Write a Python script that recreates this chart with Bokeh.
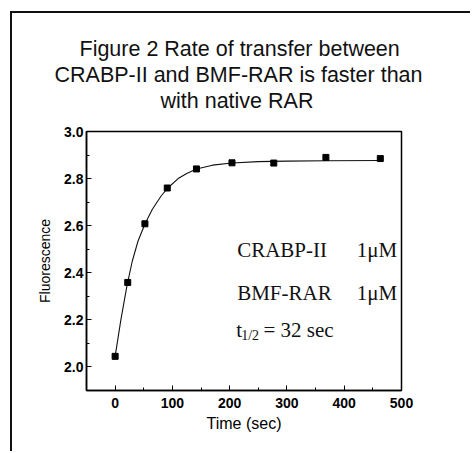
from bokeh.plotting import figure
from bokeh.models import Label, FixedTicker, PrintfTickFormatter, Range1d, Title
from bokeh.embed import file_html
from bokeh.resources import INLINE

# measured data points
time_s = [0, 22, 52, 91, 142, 204, 277, 368, 463]
fluor = [2.045, 2.359, 2.608, 2.760, 2.841, 2.867, 2.866, 2.890, 2.885]

# fitted curve
fit_t = [0, 10, 21, 30, 40, 52, 65, 80, 91, 110, 125, 142, 170, 204, 250, 300, 370, 464]
fit_y = [2.045, 2.20, 2.35, 2.45, 2.535, 2.607, 2.67, 2.725, 2.758, 2.80, 2.822,
         2.841, 2.857, 2.866, 2.872, 2.874, 2.876, 2.877]

x_ticks = [0, 100, 200, 300, 400, 500]
x_minor = [-50, 50, 150, 250, 350, 450]
y_ticks = [2.0, 2.2, 2.4, 2.6, 2.8, 3.0]
y_minor = [1.9, 2.1, 2.3, 2.5, 2.7, 2.9]

title_lines = ["Figure 2 Rate of transfer between",
               "CRABP-II and BMF-RAR is faster than",
               "with native RAR"]
title_offsets = [-7, -32, 74]   # horizontal shifts of the left-aligned lines

p = figure(width=460, height=440, output_backend="svg", toolbar_location=None,
           x_range=Range1d(-50, 500), y_range=Range1d(1.9, 3.0),
           min_border_left=74, min_border_right=71, min_border_top=118,
           min_border_bottom=63, margin=(11, 0, 0, 10), title=None)
p.styles = {"border-left": "2px solid #111", "border-top": "2px solid #111"}
p.background_fill_color = "white"
p.border_fill_color = "white"
p.outline_line_color = "black"
p.outline_line_width = 1.5
p.xgrid.visible = False
p.ygrid.visible = False

# spacer between the frame and the title block
p.add_layout(Title(text=" ", text_font_size="15px", standoff=0), "above")
# title lines: the last line sits nearest the frame, so it is added first
for txt, off in zip(reversed(title_lines), reversed(title_offsets)):
    p.add_layout(Title(text=txt, align="left", offset=off, standoff=0,
                       text_font="Liberation Sans", text_font_size="21.5px",
                       text_font_style="normal", text_color="#111"), "above")

p.xaxis.ticker = FixedTicker(ticks=x_ticks, minor_ticks=x_minor)
p.yaxis.ticker = FixedTicker(ticks=y_ticks, minor_ticks=y_minor)
p.yaxis.formatter = PrintfTickFormatter(format="%.1f")
for ax in (p.xaxis, p.yaxis):
    ax.major_tick_in = 5
    ax.major_tick_out = 0
    ax.minor_tick_in = 3
    ax.minor_tick_out = 0
    ax.axis_line_width = 1.5
    ax.major_label_text_font = "Liberation Sans"
    ax.major_label_text_font_size = "14px"
    ax.major_label_text_font_style = "bold"
    ax.major_label_text_color = "black"
    ax.axis_label_text_font = "Liberation Sans"
    ax.axis_label_text_font_style = "normal"
    ax.axis_label_text_color = "black"
p.xaxis.axis_label = "Time (sec)"
p.xaxis.axis_label_text_font_size = "16px"
p.xaxis.major_label_standoff = 7
p.xaxis.axis_label_standoff = 4
p.yaxis.axis_label = "Fluorescence"
p.yaxis.axis_label_text_font_size = "14px"
p.yaxis.major_label_standoff = 3
p.yaxis.axis_label_standoff = 8

p.line(fit_t, fit_y, line_color="#111", line_width=1.1)
p.scatter(time_s, fluor, marker="square", size=6, color="black")

serif = dict(text_font="Liberation Serif", text_font_size="21px",
             text_color="#111", text_baseline="alphabetic")
p.add_layout(Label(x=213, y=2.495, text="CRABP-II", **serif))
p.add_layout(Label(x=422, y=2.495, text="1μM", **serif))
p.add_layout(Label(x=213, y=2.316, text="BMF-RAR", **serif))
p.add_layout(Label(x=422, y=2.316, text="1μM", **serif))
p.add_layout(Label(x=211.5, y=2.155, text="t", **serif))
p.add_layout(Label(x=220, y=2.134, text="1/2", text_font="Liberation Serif",
                   text_font_size="14px", text_color="#111", text_baseline="alphabetic"))
p.add_layout(Label(x=259, y=2.155, text="= 32 sec", **serif))

open("out.html", "w").write(file_html(p, INLINE))
